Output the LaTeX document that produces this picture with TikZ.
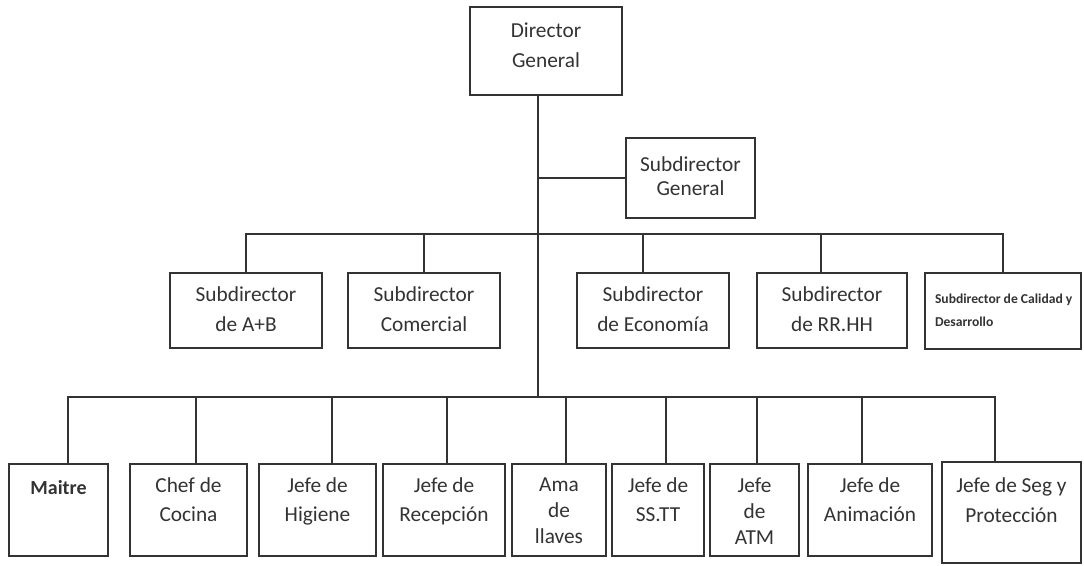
\documentclass[tikz,border=0pt]{standalone}
\usepackage{fontspec}
\setmainfont{Carlito}
\usetikzlibrary{positioning}

\begin{document}
\begin{tikzpicture}[
        x=0.75pt, y=-0.75pt,
        line width=1.6pt,
        color=black!80,
        orgbox/.style={draw, rectangle, inner sep=0pt},
        toprow/.style={minimum height=56.25pt},
        lowrow/.style={minimum height=69pt},
        lbl/.style={inner sep=0pt, align=center, font=\fontsize{16}{22}\selectfont},
        lbltight/.style={inner sep=0pt, align=center, font=\fontsize{16}{19.5}\selectfont}]
        \useasboundingbox (0,0) rectangle (1084,565);
        % NODES
        % top
        \node[orgbox, minimum width=114pt, minimum height=66pt,
            label={[lbl, below=12pt]north:Director\\General}] (dg) at (546,51) {};
        \node[orgbox, minimum width=96.75pt, minimum height=60pt,
            label={[lbl, font=\fontsize{16}{18}\selectfont, below=14pt]north:Subdirector\\General}] (sg) at (690.5,178) {};
        % subdirectors
        \node[orgbox, toprow, minimum width=114pt,
            label={[lbl, below=10.5pt]north:Subdirector\\de A+B}] (sab) at (246,310.5) {};
        \node[orgbox, toprow, minimum width=114pt,
            label={[lbl, below=10.5pt]north:Subdirector\\Comercial}] (scom) at (424,310.5) {};
        \node[orgbox, toprow, minimum width=114pt,
            label={[lbl, below=10.5pt]north:Subdirector\\de Economía}] (seco) at (653,310.5) {};
        \node[orgbox, toprow, minimum width=112.5pt,
            label={[lbl, below=10.5pt]north:Subdirector\\de RR.HH}] (srh) at (832,310.5) {};
        \node[orgbox, minimum width=117pt, minimum height=57pt,
            label={[inner sep=0pt, align=left, anchor=north west, xshift=7.5pt, yshift=-16pt,
                font=\bfseries\fontsize{10.2}{17}\selectfont]north west:Subdirector de Calidad y\\Desarrollo}] (scal) at (1003,311) {};
        % jefes
        \node[orgbox, lowrow, minimum width=74.25pt,
            label={[lbl, font=\bfseries\fontsize{15}{20}\selectfont, below=12pt]north:Maitre}] (mai) at (58.5,510) {};
        \node[orgbox, lowrow, minimum width=87.75pt,
            label={[lbl, below=10pt]north:Chef de\\Cocina}] (chef) at (188.5,510) {};
        \node[orgbox, lowrow, minimum width=87.75pt,
            label={[lbl, below=10pt]north:Jefe de\\Higiene}] (hig) at (317.5,510) {};
        \node[orgbox, lowrow, minimum width=91.5pt,
            label={[lbl, below=10pt]north:Jefe de\\Recepción}] (rec) at (444,510) {};
        \node[orgbox, lowrow, minimum width=70.5pt,
            label={[lbltight, below=10.5pt]north:Ama\\de\\llaves}] (ama) at (559,510) {};
        \node[orgbox, lowrow, minimum width=69pt,
            label={[lbl, below=10pt]north:Jefe de\\SS.TT}] (sstt) at (658,510) {};
        \node[orgbox, lowrow, minimum width=66.75pt,
            label={[lbltight, below=10.5pt]north:Jefe\\de\\ATM}] (atm) at (754.5,510) {};
        \node[orgbox, lowrow, minimum width=93pt,
            label={[lbl, below=10pt]north:Jefe de\\Animación}] (anim) at (870,510) {};
        \node[orgbox, minimum width=104.25pt, minimum height=75.75pt,
            label={[lbl, below=12pt]north:Jefe de Seg y\\Protección}] (seg) at (1011.5,512.5) {};

        % LINES
        \coordinate (busS) at (538,234);
        \coordinate (busJ) at (538,397);
        \coordinate (dEco) at ([xshift=-7.5pt]seco.north);
        \coordinate (dRh) at ([xshift=-8.25pt]srh.north);
        \coordinate (dMai) at ([xshift=7pt]mai.north);
        \coordinate (dChef) at ([xshift=5.5pt]chef.north);
        \coordinate (dHig) at ([xshift=11pt]hig.north);
        \coordinate (dRec) at ([xshift=2.25pt]rec.north);
        \coordinate (dAma) at ([xshift=5.25pt]ama.north);
        \coordinate (dSs) at ([xshift=6pt]sstt.north);
        \coordinate (dAtm) at ([xshift=2pt]atm.north);
        \coordinate (dAnim) at ([xshift=-6pt]anim.north);
        \coordinate (dSeg) at ([xshift=-12.5pt]seg.north);
        \draw (dg.south -| busJ) -- (busJ);
        \draw (sg.west) -- (sg.west -| busJ);
        \draw (sab.north) |- (busS) -| (scal.north);
        \draw (scom.north) -- (scom.north |- busS);
        \draw (dEco) -- (dEco |- busS);
        \draw (dRh) -- (dRh |- busS);
        \draw (dMai) |- (busJ) -| (dSeg);
        \foreach \d in {dChef, dHig, dRec, dAma, dSs, dAtm, dAnim}
            \draw (\d) -- (\d |- busJ);
\end{tikzpicture}
\end{document}
